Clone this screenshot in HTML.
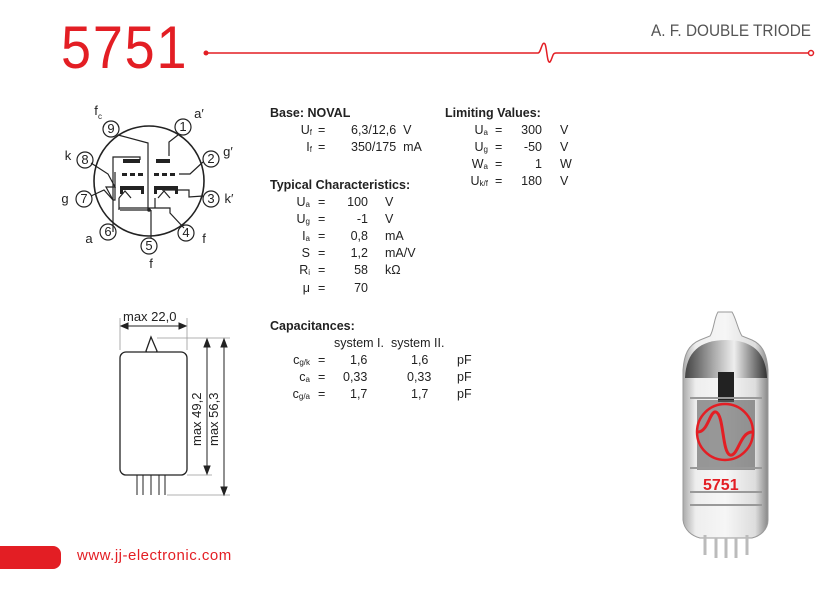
<!DOCTYPE html>
<html><head><meta charset="utf-8"><style>
body{margin:0;width:832px;height:591px;background:#fff;position:relative;overflow:hidden;font-family:"Liberation Sans","DejaVu Sans",sans-serif;color:#222}
.t{position:absolute;font-size:12.5px;white-space:nowrap;line-height:14px}
.b{font-weight:bold}
.r{text-align:right}
sub{font-size:8px;vertical-align:-1px}
</style></head><body>
<div class="t" style="left:61px;top:18px;font-size:60px;line-height:60px;color:#e31e24;letter-spacing:2px;transform:scaleX(0.9);transform-origin:left">5751</div>
<div class="t" style="left:651px;top:24px;font-size:16.5px;color:#555;transform:scaleX(0.93);transform-origin:left">A. F. DOUBLE TRIODE</div>
<svg style="position:absolute;left:0;top:0" width="832" height="591">
<g stroke="#e31e24" stroke-width="1.5" fill="none">
<path d="M207 53 H538 C541 53 542 40 545 44 C547 48 547 64 550 62 C553 58 552 53 556 53 H809"/>
<circle cx="811" cy="53" r="2.5" fill="#fff"/>
</g>
<circle cx="206" cy="53" r="2.5" fill="#e31e24"/>
<rect x="-10" y="546" width="71" height="23" rx="8" fill="#e31e24"/>
<g stroke="#222" stroke-width="1.6" fill="#fff">
<circle cx="149" cy="181" r="55"/>
<g stroke-width="1.2">
<circle cx="183" cy="127" r="8"/><circle cx="211" cy="159" r="8"/><circle cx="211" cy="199" r="8"/>
<circle cx="186" cy="233" r="8"/><circle cx="149" cy="246" r="8"/><circle cx="108" cy="232" r="8"/>
<circle cx="84" cy="199" r="8"/><circle cx="85" cy="160" r="8"/><circle cx="111" cy="129" r="8"/>
</g>
</g>
<g stroke="#222" stroke-width="1.2" fill="none">
<path d="M118 135 L148 143 V210"/>
<path d="M178 135 L169 142 V156"/>
<path d="M131 157 H140 V160"/>
<path d="M113 200 L106 187 H115 L108 174 L91 163"/>
<path d="M91 196 L104 190 L113 200 H115 V172 H115"/>
<path d="M113 232 V157 H131"/>
<path d="M203 162 L190 174 H179"/>
<path d="M203 196 L189 197 V190 H162"/>
<path d="M119 198 L125 191 L131 198 M158 198 L164 191 L170 198"/>
<path d="M119 198 V208 H155 M155 198 V208 H170 V213 L184 228"/>
<path d="M119 208 V210 M151 210 V238"/>
<path d="M120 210 H151"/>
</g>
<g fill="#222">
<rect x="123" y="159" width="17" height="4"/><rect x="156" y="159" width="14" height="4"/>
<rect x="122" y="173" width="5" height="3"/><rect x="130" y="173" width="5" height="3"/><rect x="138" y="173" width="5" height="3"/>
<rect x="154" y="173" width="5" height="3"/><rect x="162" y="173" width="5" height="3"/><rect x="170" y="173" width="5" height="3"/>
<rect x="120" y="186" width="24" height="4"/><rect x="120" y="186" width="3" height="8"/><rect x="141" y="186" width="3" height="8"/>
<rect x="154" y="186" width="24" height="4"/><rect x="154" y="186" width="3" height="8"/><rect x="175" y="186" width="3" height="8"/>
<circle cx="149" cy="210" r="1.8"/>
</g>
<g font-size="13" fill="#222" font-family="Liberation Sans,sans-serif" text-anchor="middle">
<text x="183" y="131">1</text><text x="211" y="163">2</text><text x="211" y="203">3</text><text x="186" y="237">4</text>
<text x="149" y="250">5</text><text x="108" y="236">6</text><text x="84" y="203">7</text><text x="85" y="164">8</text><text x="111" y="133">9</text>
<text x="96" y="115">f</text><text x="100" y="119" font-size="8">c</text>
<text x="199" y="118">a′</text><text x="228" y="156">g′</text><text x="229" y="203">k′</text><text x="204" y="243">f</text>
<text x="151" y="268">f</text><text x="89" y="243">a</text><text x="65" y="203">g</text><text x="68" y="160">k</text>
</g>
<g stroke="#222" stroke-width="1.3" fill="#fff">
<path d="M151 337 L146 351 C148 356 155 356 157 351 Z"/>
<rect x="120" y="352" width="67" height="123" rx="6"/>
</g>
<g stroke="#222" stroke-width="1" fill="none">
<path d="M137 475V495 M143 475V495 M151 475V495 M159 475V495 M165 475V495"/>
</g>
<g stroke="#999" stroke-width="0.8" fill="none">
<path d="M120 318V350 M187 318V350 M157 338H230 M187 475H212 M167 495H230"/>
</g>
<g stroke="#222" stroke-width="1" fill="#222">
<path d="M121 326H186" fill="none"/><path d="M121 326l7-3v6z M186 326l-7-3v6z"/>
<path d="M207 340V473" fill="none"/><path d="M207 339l-3 8h6z M207 474l-3-8h6z"/>
<path d="M224 340V494" fill="none"/><path d="M224 339l-3 8h6z M224 495l-3-8h6z"/>
</g>
<text x="123" y="321" font-size="13" fill="#222">max 22,0</text>
<text transform="translate(201 446) rotate(-90)" font-size="13" fill="#222">max 49,2</text>
<text transform="translate(218 446) rotate(-90)" font-size="13" fill="#222">max 56,3</text>
<defs>
<linearGradient id="g1" x1="0" x2="1"><stop offset="0" stop-color="#aaa"/><stop offset=".15" stop-color="#eee"/><stop offset=".5" stop-color="#f6f6f6"/><stop offset=".85" stop-color="#ddd"/><stop offset="1" stop-color="#888"/></linearGradient>
<linearGradient id="g2" x1="0" x2="1"><stop offset="0" stop-color="#444"/><stop offset=".35" stop-color="#aaa"/><stop offset=".6" stop-color="#eee"/><stop offset="1" stop-color="#333"/></linearGradient>
</defs>
<path d="M718 312 C714 318 714 330 710 336 L700 340 C688 345 684 355 683 370 V520 C684 530 692 536 700 538 H752 C760 536 768 530 768 520 V370 C767 355 763 345 752 340 L742 336 C738 330 736 318 732 312 Z" fill="url(#g1)" stroke="#999" stroke-width="1"/>
<path d="M685 378 C686 352 700 340 726 340 C752 340 766 352 767 378 Z" fill="url(#g2)"/>
<rect x="718" y="372" width="16" height="30" fill="#222"/>
<rect x="697" y="400" width="58" height="70" fill="#666" opacity=".65"/>
<path d="M690 398 H762 M690 468 H762 M690 492 H762 M690 505 H762" stroke="#999" stroke-width="2"/>
<circle cx="725" cy="432" r="28" fill="none" stroke="#e31e24" stroke-width="2.5"/>
<path d="M698 432 C708 432 710 410 716 412 C724 415 722 452 730 455 C738 457 740 432 752 432" fill="none" stroke="#e31e24" stroke-width="3"/>
<text x="703" y="490" font-size="16" font-weight="bold" fill="#e31e24">5751</text>
<g stroke="#bbb" stroke-width="3"><path d="M705 535V555 M716 538V558 M726 538V558 M736 538V558 M747 535V555"/></g>
</svg>
<div class="t" style="left:77px;top:549px;font-size:15px;color:#e31e24;letter-spacing:0.5px">www.jj-electronic.com</div>

<div class="t b" style="left:270px;top:106px">Base: NOVAL</div>
<div class="t r" style="left:280px;top:123px;width:32px">U<sub>f</sub></div><div class="t" style="left:318px;top:123px">=</div><div class="t" style="left:351px;top:123px">6,3/12,6&nbsp; V</div>
<div class="t r" style="left:280px;top:140px;width:32px">I<sub>f</sub></div><div class="t" style="left:318px;top:140px">=</div><div class="t" style="left:351px;top:140px">350/175&nbsp; mA</div>

<div class="t b" style="left:270px;top:178px">Typical Characteristics:</div>
<div class="t r" style="left:280px;top:195px;width:30px">U<sub>a</sub></div><div class="t" style="left:318px;top:195px">=</div><div class="t r" style="left:330px;top:195px;width:38px">100</div><div class="t" style="left:385px;top:195px">V</div>
<div class="t r" style="left:280px;top:212px;width:30px">U<sub>g</sub></div><div class="t" style="left:318px;top:212px">=</div><div class="t r" style="left:330px;top:212px;width:38px">-1</div><div class="t" style="left:385px;top:212px">V</div>
<div class="t r" style="left:280px;top:229px;width:30px">I<sub>a</sub></div><div class="t" style="left:318px;top:229px">=</div><div class="t r" style="left:330px;top:229px;width:38px">0,8</div><div class="t" style="left:385px;top:229px">mA</div>
<div class="t r" style="left:280px;top:246px;width:30px">S</div><div class="t" style="left:318px;top:246px">=</div><div class="t r" style="left:330px;top:246px;width:38px">1,2</div><div class="t" style="left:385px;top:246px">mA/V</div>
<div class="t r" style="left:280px;top:263px;width:30px">R<sub>i</sub></div><div class="t" style="left:318px;top:263px">=</div><div class="t r" style="left:330px;top:263px;width:38px">58</div><div class="t" style="left:385px;top:263px">kΩ</div>
<div class="t r" style="left:280px;top:281px;width:30px">μ</div><div class="t" style="left:318px;top:281px">=</div><div class="t r" style="left:330px;top:281px;width:38px">70</div>

<div class="t b" style="left:445px;top:106px">Limiting Values:</div>
<div class="t r" style="left:450px;top:123px;width:38px">U<sub>a</sub></div><div class="t" style="left:495px;top:123px">=</div><div class="t r" style="left:505px;top:123px;width:37px">300</div><div class="t" style="left:560px;top:123px">V</div>
<div class="t r" style="left:450px;top:140px;width:38px">U<sub>g</sub></div><div class="t" style="left:495px;top:140px">=</div><div class="t r" style="left:505px;top:140px;width:37px">-50</div><div class="t" style="left:560px;top:140px">V</div>
<div class="t r" style="left:450px;top:157px;width:38px">W<sub>a</sub></div><div class="t" style="left:495px;top:157px">=</div><div class="t r" style="left:505px;top:157px;width:37px">1</div><div class="t" style="left:560px;top:157px">W</div>
<div class="t r" style="left:450px;top:174px;width:38px">U<sub>k/f</sub></div><div class="t" style="left:495px;top:174px">=</div><div class="t r" style="left:505px;top:174px;width:37px">180</div><div class="t" style="left:560px;top:174px">V</div>

<div class="t b" style="left:270px;top:319px">Capacitances:</div>
<div class="t" style="left:334px;top:336px">system I.&nbsp; system II.</div>
<div class="t r" style="left:280px;top:353px;width:30px">c<sub>g/k</sub></div><div class="t" style="left:318px;top:353px">=</div><div class="t" style="left:350px;top:353px">1,6</div><div class="t" style="left:411px;top:353px">1,6</div><div class="t" style="left:457px;top:353px">pF</div>
<div class="t r" style="left:280px;top:370px;width:30px">c<sub>a</sub></div><div class="t" style="left:318px;top:370px">=</div><div class="t" style="left:343px;top:370px">0,33</div><div class="t" style="left:407px;top:370px">0,33</div><div class="t" style="left:457px;top:370px">pF</div>
<div class="t r" style="left:280px;top:387px;width:30px">c<sub>g/a</sub></div><div class="t" style="left:318px;top:387px">=</div><div class="t" style="left:350px;top:387px">1,7</div><div class="t" style="left:411px;top:387px">1,7</div><div class="t" style="left:457px;top:387px">pF</div>
</body></html>
